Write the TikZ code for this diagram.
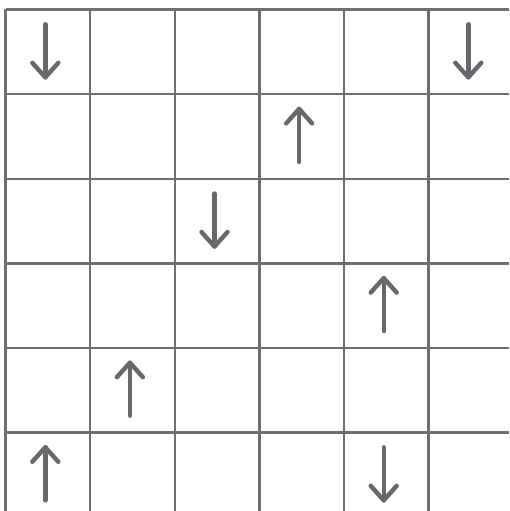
\documentclass[tikz,border=0pt]{standalone}
\definecolor{gridgray}{HTML}{6E6E6E}
\definecolor{arrowgray}{HTML}{68686C}
\tikzset{
  gridline/.style={draw=gridgray, line width=2.4pt},
  arrowline/.style={draw=arrowgray, line width=4.4pt, line cap=round, line join=round},
}
\newcommand{\cellsz}{84.6}
\begin{document}
\begin{tikzpicture}[x=1pt,y=-1pt]
\useasboundingbox (0,0) rectangle (509,511);
\fill[white] (0,0) rectangle (509,511);
% grid
\foreach \k in {0,...,5}{
  \draw[gridline] (5.5, {9.5+\cellsz*\k}) -- (509, {9.5+\cellsz*\k});
  \draw[gridline] ({5.5+\cellsz*\k}, 9.5) -- ({5.5+\cellsz*\k}, 511);
}
% arrows: row, col, direction (1 = down, -1 = up)
\foreach \r/\c/\d in {0/0/1, 0/5/1, 1/3/-1, 2/2/1, 3/4/-1, 4/1/-1, 5/0/-1, 5/4/1}{
  \pgfmathsetmacro{\cx}{5.5+\cellsz*\c+\cellsz/2-2.5}
  \pgfmathsetmacro{\cy}{9.5+\cellsz*\r+\cellsz/2-1}
  \pgfmathsetmacro{\ty}{\cy+26.5*\d}
  \pgfmathsetmacro{\sy}{\cy-26.5*\d}
  \pgfmathsetmacro{\hy}{\ty-14.5*\d}
  \draw[arrowline] (\cx,\sy) -- (\cx,\ty);
  \draw[arrowline] ({\cx-13},\hy) -- (\cx,\ty) -- ({\cx+13},\hy);
}
\end{tikzpicture}
\end{document}
